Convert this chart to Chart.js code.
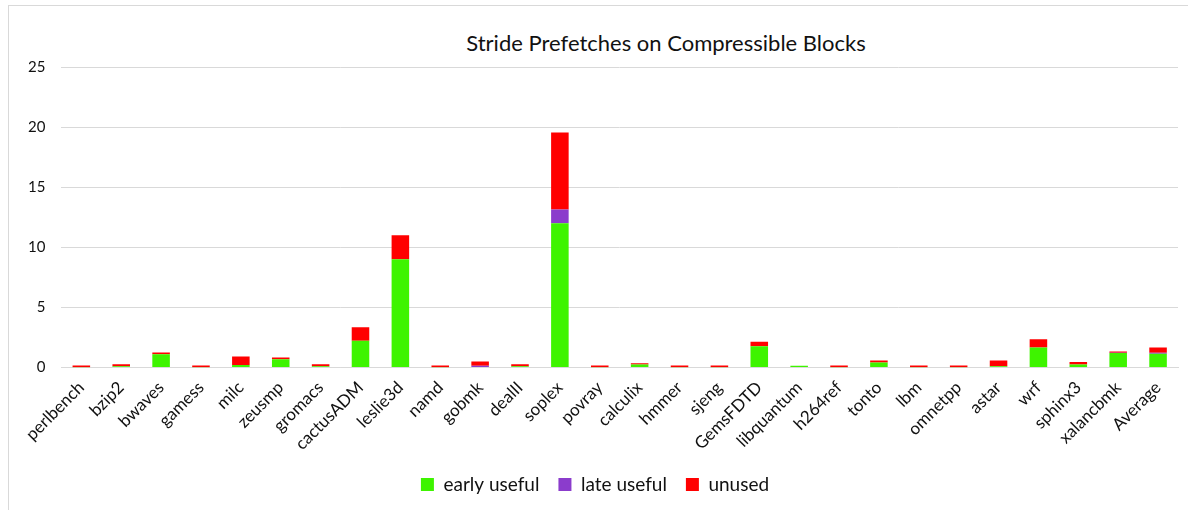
<!DOCTYPE html>
<html>
<head>
<meta charset="utf-8">
<script src="https://cdn.jsdelivr.net/npm/chart.js@4"></script>
<style>
  body { margin: 0; background: #fff; }
  #wrap { position: relative; width: 1188px; height: 510px; }
  #frame { position: absolute; left: 8px; top: 5px; width: 1200px; height: 520px; border: 1px solid #d9d9d9; box-sizing: border-box; }
  #title { position: absolute; left: 0; width: 1332px; top: 29px; text-align: center; font: 22px Lato, sans-serif; color: #111; }
  canvas { position: absolute; left: 0; top: 0; }
</style>
</head>
<body>
<div id="wrap">
  <div id="frame"></div>
  <div id="title">Stride Prefetches on Compressible Blocks</div>
  <canvas id="chart" width="1188" height="510"></canvas>
</div>
<script>
// benchmark names on the x axis
const benchmarks = ['perlbench', 'bzip2', 'bwaves', 'gamess', 'milc', 'zeusmp', 'gromacs', 'cactusADM',
  'leslie3d', 'namd', 'gobmk', 'dealII', 'soplex', 'povray', 'calculix', 'hmmer', 'sjeng', 'GemsFDTD',
  'libquantum', 'h264ref', 'tonto', 'lbm', 'omnetpp', 'astar', 'wrf', 'sphinx3', 'xalancbmk', 'Average'];

// values
const earlyUseful = [0.02, 0.1, 1.1, 0.02, 0.22, 0.7, 0.1, 2.23,
  9.0, 0.02, 0.0, 0.1, 12.0, 0.02, 0.25, 0.02, 0.02, 1.78,
  0.14, 0.02, 0.42, 0.02, 0.02, 0.1, 1.67, 0.25, 1.2, 1.14];
const lateUseful = [0, 0, 0, 0, 0, 0, 0, 0,
  0, 0, 0.15, 0, 1.14, 0, 0, 0, 0, 0,
  0, 0, 0, 0, 0, 0, 0, 0, 0.03, 0.1];
const unused = [0.15, 0.18, 0.15, 0.15, 0.7, 0.13, 0.18, 1.13,
  2.0, 0.15, 0.35, 0.18, 6.41, 0.15, 0.1, 0.15, 0.15, 0.36,
  0, 0.15, 0.16, 0.15, 0.15, 0.48, 0.69, 0.22, 0.1, 0.43];

const yTicks = [0, 5, 10, 15, 20, 25];

const font = 'Lato, sans-serif';

new Chart(document.getElementById('chart'), {
  type: 'bar',
  data: {
    labels: benchmarks,
    datasets: [
      { label: 'early useful', data: earlyUseful, backgroundColor: '#3ef400' },
      { label: 'late useful', data: lateUseful, backgroundColor: '#8b3ccc' },
      { label: 'unused', data: unused, backgroundColor: '#ff0000' }
    ]
  },
  options: {
    responsive: false,
    animation: false,
    layout: { padding: { top: 67, left: 12, right: 10, bottom: 6 } },
    datasets: { bar: { categoryPercentage: 1, barPercentage: 0.44 } },
    plugins: {
      title: { display: false },
      tooltip: { enabled: false },
      legend: {
        position: 'bottom',
        labels: {
          boxWidth: 13, boxHeight: 13, padding: 19,
          color: '#111', font: { family: font, size: 19 }
        }
      }
    },
    scales: {
      x: {
        stacked: true,
        grid: { display: false },
        border: { color: '#d9d9d9', width: 1 },
        ticks: {
          color: '#111', font: { family: font, size: 17 },
          minRotation: 45, maxRotation: 45, autoSkip: false, padding: 2
        }
      },
      y: {
        stacked: true,
        min: yTicks[0], max: yTicks[yTicks.length - 1],
        afterBuildTicks: axis => { axis.ticks = yTicks.map(v => ({ value: v })); },
        grid: { color: '#d9d9d9', drawTicks: false },
        border: { display: false },
        ticks: { color: '#111', font: { family: font, size: 15 }, padding: 16 }
      }
    }
  }
});
</script>
</body>
</html>
